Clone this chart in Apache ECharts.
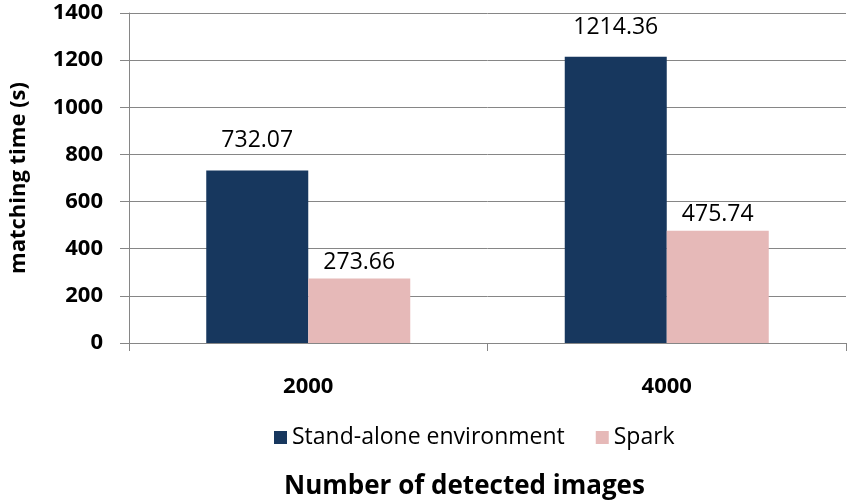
<!DOCTYPE html>
<html><head><meta charset="utf-8">
<script src="https://cdn.jsdelivr.net/npm/echarts@6/dist/echarts.min.js"></script>
<style>html,body{margin:0;padding:0;background:#fff}#c{width:850px;height:504px}</style>
</head><body><div id="c"></div>
<script>
const categories = ['2000', '4000'];
const standAlone = [732.07, 1214.36];
const spark = [273.66, 475.74];
const seriesNames = ['Stand-alone environment', 'Spark'];
const yTicks = [0, 200, 400, 600, 800, 1000, 1200, 1400];
const xAxisTitle = 'Number of detected images';
const yAxisTitle = 'matching time (s)';

const F = '"Open Sans", Lato, sans-serif';
const chart = echarts.init(document.getElementById('c'), null, {renderer: 'canvas'});
chart.setOption({
  animation: false,
  backgroundColor: '#fff',
  grid: {left: 127, right: 4, top: 13, bottom: 161, containLabel: false},
  title: {
    text: xAxisTitle, left: 284, top: 474, padding: 0,
    textStyle: {fontFamily: F, fontWeight: 'bold', fontSize: 26, color: '#000'}
  },
  legend: {
    data: seriesNames, top: 421, left: 269, itemWidth: 13, itemHeight: 13, itemGap: 31,
    icon: 'rect',
    textStyle: {fontFamily: F, fontSize: 23, color: '#000', padding: [0, 0, 0, 0]}
  },
  xAxis: {
    type: 'category', data: categories,
    axisLine: {lineStyle: {color: '#868686', width: 1}},
    axisTick: {show: true, length: 8, lineStyle: {color: '#868686'}},
    axisLabel: {fontFamily: F, fontWeight: 'bold', fontSize: 22, color: '#000', margin: 33}
  },
  yAxis: {
    type: 'value', min: 0, max: 1400, interval: 200,
    axisLine: {show: true, lineStyle: {color: '#868686'}},
    axisTick: {show: true, length: 9, lineStyle: {color: '#868686'}},
    splitLine: {lineStyle: {color: '#868686'}},
    axisLabel: {fontFamily: F, fontWeight: 'bold', fontSize: 22, color: '#000', margin: 26,
      formatter: v => yTicks.includes(v) ? String(v) : ''},
    name: yAxisTitle, nameLocation: 'middle', nameGap: 99, nameRotate: 90,
    nameTextStyle: {fontFamily: F, fontWeight: 'bold', fontSize: 22, color: '#000'}
  },
  series: [
    {
      name: seriesNames[0], type: 'bar', data: standAlone, barWidth: 102, barGap: '0%',
      itemStyle: {color: '#17375E'},
      label: {show: true, position: 'top', distance: 18, fontFamily: F, fontSize: 23, color: '#000',
        formatter: p => p.value.toFixed(2)}
    },
    {
      name: seriesNames[1], type: 'bar', data: spark, barWidth: 102,
      itemStyle: {color: '#E6B9B8'},
      label: {show: true, position: 'top', distance: 5, fontFamily: F, fontSize: 23, color: '#000',
        formatter: p => p.value.toFixed(2)}
    }
  ]
});
</script></body></html>
